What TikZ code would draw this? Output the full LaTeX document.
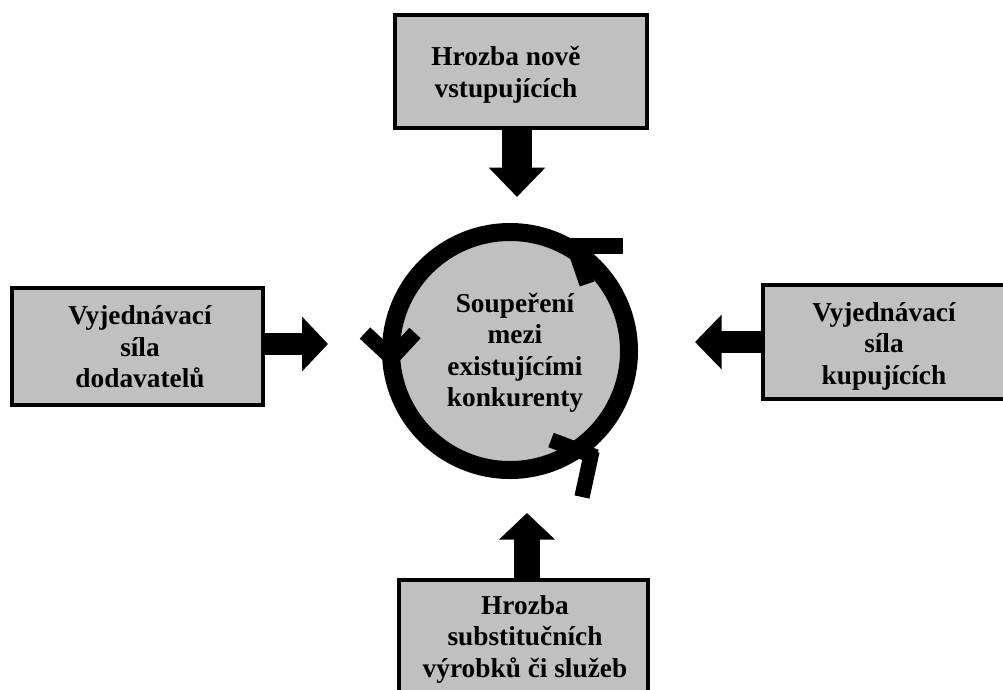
\documentclass[tikz,border=0pt]{standalone}
\usepackage{fontspec}
\setmainfont{Liberation Serif}
\usetikzlibrary{arrows.meta}
\definecolor{boxgray}{RGB}{192,192,192}
\tikzset{
  box/.style={draw=black, fill=boxgray, line width=2.4pt, rectangle, inner sep=0pt},
  lbl/.style={align=center, inner sep=0pt, font=\bfseries\fontsize{20.5}{23.6}\selectfont},
  blockarrow/.style={draw=black, line cap=butt},
  barb/.style={draw=black, line width=11.5pt, line cap=butt},
}
\begin{document}
\begin{tikzpicture}[x=0.75pt,y=-0.75pt]
\useasboundingbox (0,0) rectangle (1003,689);
\clip (0,0) rectangle (1003,689);
% boxes
\node[box, minimum width=252*0.75pt, minimum height=113*0.75pt] (top) at (521,71.5) {};
\node[lbl] (toptxt) at (506,75) {Hrozba nově\\vstupujících};
\node[box, minimum width=251*0.75pt, minimum height=117*0.75pt] (left) at (137.5,346.5) {};
\node[lbl] (lefttxt) at (140,347) {Vyjednávací\\síla\\dodavatelů};
\node[box, minimum width=260*0.75pt, minimum height=114*0.75pt] (right) at (893,342) {};
\node[lbl] (righttxt) at (884,346) {Vyjednávací\\síla\\kupujících};
\node[box, minimum width=249*0.75pt, minimum height=140*0.75pt] (bottom) at (523.5,650) {};
\node[lbl] (bottomtxt) at (525,639) {Hrozba\\substitučních\\výrobků či služeb};
% central ring
\node[circle, draw=black, fill=boxgray, line width=13.5pt, inner sep=0pt, minimum size=238*0.75pt] (ring) at (510,351) {};
\node[lbl] (ringtxt) at (515,353) {Soupeření\\mezi\\existujícími\\konkurenty};
% barbs on the ring
\draw[barb] (564,246) -- (623,246);
\draw[barb] (574,246) -- (587,284);
\draw[barb] (365,333) -- (395,361);
\draw[barb] (415,333) -- (389,361);
\draw[barb] (551,440) -- (596,457);
\draw[barb] (592,451) -- (582,497);
% block arrows
\coordinate (ttip) at (517,197);
\coordinate (btip) at (527,513);
\coordinate (ltip) at (328,344);
\coordinate (rtip) at (695,342);
\draw[blockarrow, line width=22.5pt, -{Triangle[width=41pt,length=22pt]}] (top.south -| ttip) -- (ttip);
\draw[blockarrow, line width=19.5pt, -{Triangle[width=41pt,length=20pt]}] (bottom.north -| btip) -- (btip);
\draw[blockarrow, line width=16.5pt, -{Triangle[width=40pt,length=19.5pt]}] (left.east |- ltip) -- (ltip);
\draw[blockarrow, line width=17pt, -{Triangle[width=40pt,length=20pt]}] (right.west |- rtip) -- (rtip);
\end{tikzpicture}
\end{document}
